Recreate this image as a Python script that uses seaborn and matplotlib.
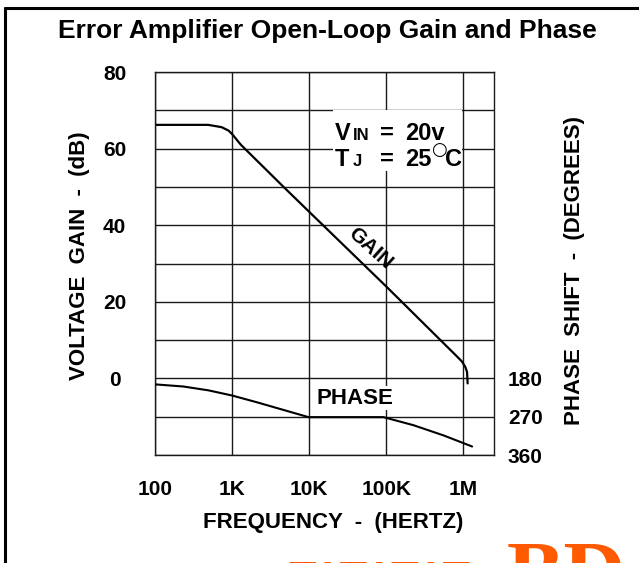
"""Error amplifier open-loop gain and phase (Bode plot)."""

import matplotlib
matplotlib.use("Agg")
import matplotlib.pyplot as plt
from matplotlib.lines import Line2D
from matplotlib.patches import Rectangle
import numpy as np
import pandas as pd
import seaborn as sns

# gain curve (Hz, dB)
gain_freq = [100, 490, 730, 900, 1000, 1300, 4600, 10000, 100000,
             830000, 960000, 1060000, 1117000, 1137000]
gain_db = [66.2, 66.2, 65.6, 64.7, 63.8, 61.0, 50.1, 43.5, 24.0,
           5.7, 4.4, 3.0, 1.7, -1.3]

# phase curve (Hz, degrees)
phase_freq = [100, 233, 492, 990, 2090, 4630, 9800, 92000, 226000, 555000, 1300000]
phase_deg = [194, 199, 208, 220, 236, 254, 271, 271, 290, 314, 340]

gain_ticks = [0, 20, 40, 60, 80]
phase_ticks = [180, 270, 360]
freq_ticks = [100, 1000, 10000, 100000, 1000000]
freq_labels = ["100", "1K", "10K", "100K", "1M"]

sns.set_theme(style="white")
plt.rcParams["font.family"] = ["Liberation Sans", "DejaVu Sans"]
plt.rcParams["text.color"] = "black"
plt.rcParams["axes.labelcolor"] = "black"
plt.rcParams["xtick.color"] = "black"
plt.rcParams["ytick.color"] = "black"

gain_frame = pd.DataFrame({"freq": gain_freq, "gain": gain_db})
phase_frame = pd.DataFrame({"freq": phase_freq, "phase": phase_deg})

fig = plt.figure(figsize=(6.39, 5.63), dpi=100)
ax = fig.add_axes([0.2426, 0.1918, 0.5305, 0.6803])

sns.lineplot(data=gain_frame, x="freq", y="gain", ax=ax, color="black", linewidth=1.6)
ax.set_xscale("log")
ax.set_xlim(100, 2.5e6)
ax.set_ylim(-20, 80)

# grid: decades vertically, 10 dB horizontally
ax.set_xticks(freq_ticks)
ax.set_xticklabels(freq_labels)
ax.xaxis.set_minor_locator(matplotlib.ticker.NullLocator())
ax.set_yticks(np.arange(-20, 81, 10), minor=True)
ax.set_yticks(gain_ticks)
ax.set_yticklabels([str(t) for t in gain_ticks])
ax.grid(True, which="both", axis="y", color="#1a1a1a", linewidth=1.0)
ax.grid(True, which="major", axis="x", color="#1a1a1a", linewidth=1.0)
ax.tick_params(axis="both", which="both", length=0)
ax.tick_params(axis="y", pad=29, labelsize=15)
ax.tick_params(axis="x", pad=18, labelsize=15)
for lbl in ax.get_yticklabels():
    lbl.set_horizontalalignment("center")
    lbl.set_fontweight("bold")
for lbl in ax.get_xticklabels():
    lbl.set_fontweight("bold")
for spine in ax.spines.values():
    spine.set_color("#1a1a1a")
    spine.set_linewidth(1.0)

ax.set_xlabel("FREQUENCY  -  (HERTZ)", fontsize=16, fontweight="bold")
ax.set_ylabel("VOLTAGE  GAIN  -  (dB)", fontsize=16, fontweight="bold")
ax.xaxis.set_label_coords(0.525, -0.149)
ax.yaxis.set_label_coords(-0.192, 0.52)

# phase on a second axis sharing the frequency scale
ax2 = ax.twinx()
sns.lineplot(data=phase_frame, x="freq", y="phase", ax=ax2, color="black", linewidth=1.5)
ax2.set_ylim(360, -540)
ax2.set_yticks(phase_ticks)
ax2.set_yticklabels([str(t) for t in phase_ticks])
ax2.tick_params(axis="y", length=0, pad=10, labelsize=15)
for lbl in ax2.get_yticklabels():
    lbl.set_fontweight("bold")
ax2.set_ylabel("PHASE  SHIFT  -  (DEGREES)", fontsize=16, fontweight="bold")
ax2.yaxis.set_label_coords(1.207, 0.483)
ax2.grid(False)
for spine in ax2.spines.values():
    spine.set_visible(False)

# curve labels and operating conditions
ax.text(0.635, 0.54, "GAIN", transform=ax.transAxes, rotation=-42,
        fontsize=15, fontweight="bold", ha="center", va="center")
ax.text(0.59, 0.148, "PHASE", transform=ax.transAxes,
        fontsize=16, fontweight="bold", ha="center", va="center",
        bbox=dict(facecolor="white", edgecolor="none", pad=1))
ax.add_patch(Rectangle((0.525, 0.741), 0.381, 0.16, transform=ax.transAxes,
                       facecolor="white", edgecolor="none", zorder=1))
cond = dict(transform=ax.transAxes, va="baseline", fontweight="bold", zorder=3)
ax.text(0.531, 0.822, "V", fontsize=17, **cond)
ax.text(0.583, 0.822, "IN", fontsize=12, **cond)
ax.text(0.664, 0.822, "=", fontsize=17, **cond)
ax.text(0.737, 0.822, "20v", fontsize=17, **cond)
ax.text(0.531, 0.755, "T", fontsize=17, **cond)
ax.text(0.583, 0.755, "J", fontsize=12, **cond)
ax.text(0.664, 0.755, "=", fontsize=17, **cond)
ax.text(0.737, 0.755, "25", fontsize=17, **cond)
ax.text(0.813, 0.784, "\u25cb", fontsize=13, transform=ax.transAxes,
        va="baseline", family="DejaVu Sans", zorder=3)
ax.text(0.855, 0.755, "C", fontsize=17, **cond)

fig.text(0.5125, 1 - 31 / 563, "Error Amplifier Open-Loop Gain and Phase",
         ha="center", va="center", fontsize=19, fontweight="bold")

# page frame and watermark fragment
fig.add_artist(Line2D([5 / 639, 5 / 639], [0, 1 - 8 / 563], transform=fig.transFigure,
                      color="black", linewidth=2.2))
fig.add_artist(Line2D([5 / 639, 1], [1 - 8 / 563, 1 - 8 / 563], transform=fig.transFigure,
                      color="black", linewidth=2.2))
fig.text(0.793, -0.067, "BD", color="#ff5a00", fontsize=62, fontweight="bold",
         family="Liberation Serif", ha="left", va="baseline")
fig.text(0.452, -0.048, "TATATAT", color="#ff5a00", fontsize=30, fontweight="bold",
         family="Liberation Serif", ha="left", va="baseline")

fig.savefig("out.png", dpi=100)
